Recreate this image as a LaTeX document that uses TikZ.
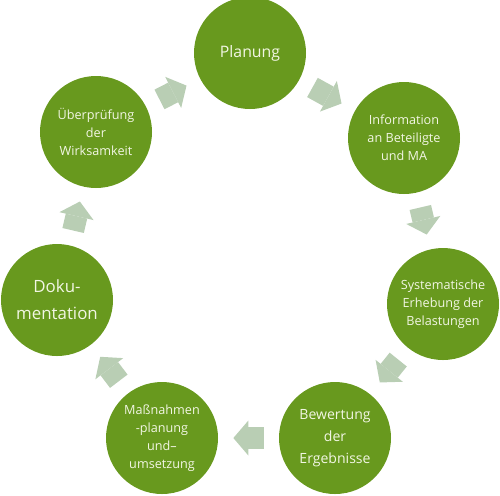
\documentclass[tikz,border=0pt]{standalone}
\usepackage{fontspec}
\setmainfont{Open Sans}
\usepackage{tikz}
\usetikzlibrary{positioning}
\usetikzlibrary{arrows.meta}

\definecolor{leaf}{RGB}{104,153,30}
\definecolor{pale}{RGB}{185,206,180}
\definecolor{cream}{RGB}{242,246,228}

\tikzset{
  phase/.style={circle,fill=leaf,text=cream,minimum size=22.4mm,inner sep=0pt,align=center,font=\fontsize{7.2}{10.2}\selectfont},
  flow/.style={draw=pale,line width=4.4mm,-{Triangle[length=3mm,width=7mm,line width=0pt]},shorten <=3mm,shorten >=3mm}
}

\begin{document}
\begin{tikzpicture}[x=0.2mm,y=-0.2mm]
\useasboundingbox (0,0) rectangle (500,495);

\node[phase,font=\fontsize{9}{12}\selectfont](plan) at (250,53){Planung};
\node[phase](info) at (404,138){Information\\an Beteiligte\\und MA};
\node[phase](erheb) at (443,304){Systematische\\Erhebung der\\Belastungen};
\node[phase,font=\fontsize{8}{12.4}\selectfont](bew) at (335,438){Bewertung\\der\\Ergebnisse};
\node[phase](mass) at (162,438){Maßnahmen\\-planung\\und–\\umsetzung};
\node[phase,font=\fontsize{9.6}{15.4}\selectfont](doku) at (57,300){Doku-\\mentation};
\node[phase](check) at (96,132){Überprüfung\\der\\Wirksamkeit};

\path (plan) edge[flow] (info);
\path (info) edge[flow] (erheb);
\path (erheb) edge[flow] (bew);
\path (bew) edge[flow] (mass);
\path (mass) edge[flow] (doku);
\path (doku) edge[flow] (check);
\path (check) edge[flow] (plan);

\end{tikzpicture}
\end{document}
